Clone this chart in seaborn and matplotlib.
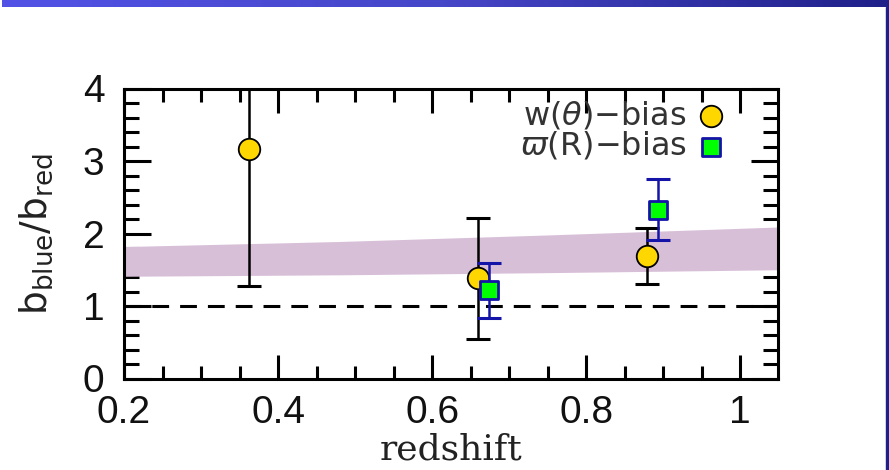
import numpy as np
import pandas as pd
import matplotlib
matplotlib.use("Agg")
import matplotlib.pyplot as plt
from matplotlib.patches import Rectangle
from matplotlib.ticker import MultipleLocator, FixedLocator, FixedFormatter
import seaborn as sns

# Angular clustering bias ratio, w(theta)
w_z = [0.362, 0.660, 0.879]
w_ratio = [3.16, 1.38, 1.69]
w_err = [1.88, 0.83, 0.38]

# Projected clustering bias ratio, varpi(R)
p_z = [0.674, 0.893]
p_ratio = [1.22, 2.33]
p_err = [0.38, 0.42]

# Model band
band_z = [0.2, 0.48, 0.75, 1.05]
band_lo = [1.41, 1.43, 1.46, 1.50]
band_hi = [1.82, 1.89, 1.98, 2.09]

x_ticks = [0.2, 0.4, 0.6, 0.8, 1.0]
x_labels = ["0.2", "0.4", "0.6", "0.8", "1"]
y_ticks = [0, 1, 2, 3, 4]
y_labels = ["0", "1", "2", "3", "4"]

sns.set_theme(style="ticks")
plt.rcParams["font.family"] = ["DejaVu Sans"]
plt.rcParams["mathtext.fontset"] = "dejavusans"

W, H = 889, 470
fig = plt.figure(figsize=(W / 100, H / 100), dpi=100)
fig.patch.set_facecolor("white")

# slide header bar with gradient, and right border
hdr = fig.add_axes([2 / W, 1 - 7 / H, 1 - 2 / W, 7 / H])
grad = np.linspace(0, 1, 256)[None, :]
cmap = matplotlib.colors.LinearSegmentedColormap.from_list("hdr", ["#5252E6", "#4646C8", "#20208A"])
hdr.imshow(grad, aspect="auto", cmap=cmap)
hdr.set_axis_off()
fig.patches.append(Rectangle((886 / W, 0), 3 / W, 1 - 7 / H, transform=fig.transFigure,
                             color="#20208A", zorder=5))

ax = fig.add_axes([124 / W, 1 - 378.5 / H, (778 - 124) / W, (378.5 - 88.5) / H])
ax.set_facecolor("white")

ax.fill_between(band_z, band_lo, band_hi, color="#D8BFD8", lw=0, zorder=1)
ax.axhline(1.0, color="black", lw=2.2, ls=(0, (5.5, 3.6)), zorder=2)

ax.errorbar(w_z, w_ratio, yerr=w_err, fmt="none", ecolor="black", elinewidth=1.8,
            capsize=8.3, capthick=2.2, zorder=3)
w_df = pd.DataFrame({"z": w_z, "ratio": w_ratio})
sns.scatterplot(data=w_df, x="z", y="ratio", ax=ax, marker="o", s=240, color="#FFD700",
                edgecolor="black", linewidth=1.3, zorder=4, label=r"w($\theta$)$-$bias")

ax.errorbar(p_z, p_ratio, yerr=p_err, fmt="none", ecolor="#1414A8", elinewidth=1.8,
            capsize=8.3, capthick=2.2, zorder=5)
p_df = pd.DataFrame({"z": p_z, "ratio": p_ratio})
sns.scatterplot(data=p_df, x="z", y="ratio", ax=ax, marker="s", s=150, color="#00FF00",
                edgecolor="#1414A8", linewidth=2.0, zorder=6, label=r"$\varpi$(R)$-$bias")

ax.set_xlim(0.2, 1.049)
ax.set_ylim(0, 4)
ax.xaxis.set_major_locator(FixedLocator(x_ticks))
ax.xaxis.set_major_formatter(FixedFormatter(x_labels))
ax.xaxis.set_minor_locator(MultipleLocator(0.05))
ax.yaxis.set_major_locator(FixedLocator(y_ticks))
ax.yaxis.set_major_formatter(FixedFormatter(y_labels))
ax.yaxis.set_minor_locator(MultipleLocator(0.2))

for s in ax.spines.values():
    s.set_visible(True)
    s.set_linewidth(2.2)
    s.set_color("black")

ax.tick_params(which="both", direction="in", top=True, right=True, width=2.2, color="black",
               labelcolor="#111111")
ax.tick_params(axis="x", which="major", length=17.5, pad=12, labelsize=28,
               labelfontfamily="Liberation Sans")
ax.tick_params(axis="x", which="minor", length=9.5)
ax.tick_params(axis="y", which="major", length=19.5, pad=14, labelsize=28,
               labelfontfamily="Liberation Sans")
ax.tick_params(axis="y", which="minor", length=11)

ax.set_xlabel("redshift", fontsize=26, family="DejaVu Serif", color="#222222", labelpad=1)
ax.set_ylabel(r"b$_{\rm blue}$/b$_{\rm red}$", fontsize=27, color="#222222", labelpad=20)

leg = ax.legend(loc="upper right", bbox_to_anchor=(0.955, 1.04), frameon=False,
                markerfirst=False, fontsize=23, handletextpad=0.3, labelspacing=-0.04,
                borderpad=0.2, handlelength=0.95)
for t in leg.get_texts():
    t.set_color("#333333")

fig.savefig("out.png", dpi=100)
